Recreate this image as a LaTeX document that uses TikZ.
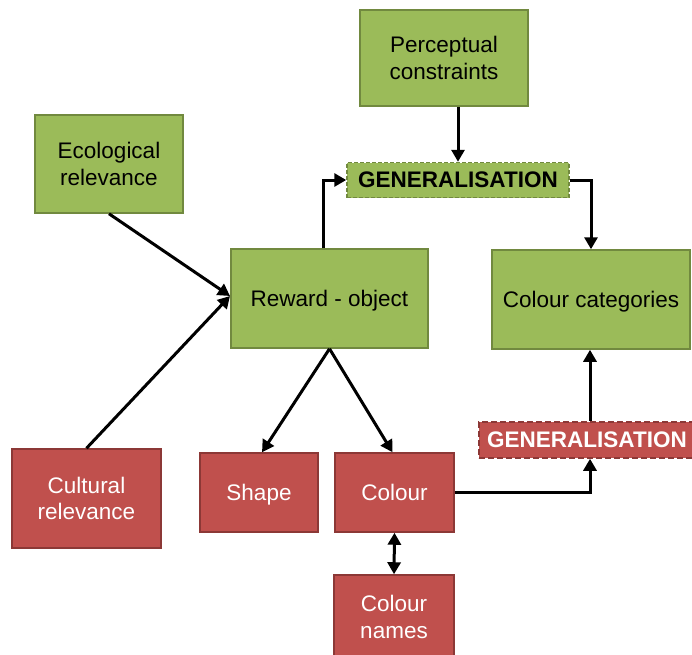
\documentclass[tikz,border=0pt]{standalone}
\usepackage{fontspec}
\setmainfont{Liberation Sans}
\usetikzlibrary{arrows.meta,positioning}
\definecolor{gfill}{HTML}{9BBB59}
\definecolor{gline}{HTML}{71893F}
\definecolor{rfill}{HTML}{C0504D}
\definecolor{rline}{HTML}{8C3836}
\tikzset{
  gbox/.style={draw=gline,line width=1.5pt,fill=gfill,text=black,align=center,inner sep=0pt,
    font=\fontsize{22.5}{26.5}\selectfont,text depth=-3pt},
  rbox/.style={draw=rline,line width=1.5pt,fill=rfill,text=white,align=center,inner sep=0pt,
    font=\fontsize{22.5}{26.5}\selectfont,text depth=-3pt},
  ggen/.style={gbox,dashed,dash pattern=on 4pt off 2pt,font=\fontsize{22.5}{26.5}\selectfont\bfseries},
  rgen/.style={rbox,dashed,dash pattern=on 6pt off 3pt,font=\fontsize{22.5}{26.5}\selectfont\bfseries},
  arr/.style={line width=3pt,-{Triangle[length=12pt,width=13pt]}},
  darr/.style={line width=3pt,{Triangle[length=12pt,width=13pt]}-{Triangle[length=12pt,width=13pt]}}
}
\begin{document}
\begin{tikzpicture}[x=1pt,y=-1pt]
\useasboundingbox (0,0) rectangle (692,654);
\node[gbox,minimum width=168pt,minimum height=96pt] (pc) at (444,58) {Perceptual\\constraints};
\node[gbox,minimum width=148pt,minimum height=98pt] (eco) at (109,164) {Ecological\\relevance};
\node[ggen,minimum width=222pt,minimum height=35pt] (gg) at (458,180) {GENERALISATION};
\node[gbox,minimum width=197pt,minimum height=99pt] (rew) at (329.5,298.5) {Reward - object};
\node[gbox,minimum width=198pt,minimum height=99pt] (cc) at (591,299.5) {Colour categories};
\node[rgen,minimum width=216pt,minimum height=36pt] (rg) at (587,440) {GENERALISATION};
\node[rbox,minimum width=149pt,minimum height=99pt] (cul) at (86.5,498.5) {Cultural\\relevance};
\node[rbox,minimum width=118pt,minimum height=79pt] (shp) at (259,492.5) {Shape};
\node[rbox,minimum width=119pt,minimum height=79pt] (col) at (394.5,492.5) {Colour};
\node[rbox,minimum width=120pt,minimum height=84pt] (cn) at (394,617) {Colour\\names};
\coordinate (rewin) at (230,296);
\draw[arr] (gg.north |- pc.south) -- (gg.north);
\draw[arr] (eco.south) -- (rewin);
\draw[arr] (cul.north) -- (rewin);
\draw[arr] ([xshift=-6pt]rew.north) |- (gg.west);
\draw[arr] (gg.east) -| (cc.north);
\draw[arr] (rew.south) -- ([xshift=3pt]shp.north);
\draw[arr] (rew.south) -- ([xshift=-2pt]col.north);
\draw[arr] (col.east) -| ([xshift=3pt]rg.south);
\draw[arr] ([xshift=3pt]rg.north) -- ([xshift=3pt]rg.north |- cc.south);
\draw[darr] (col.south) -- (cn.north);
\end{tikzpicture}
\end{document}
